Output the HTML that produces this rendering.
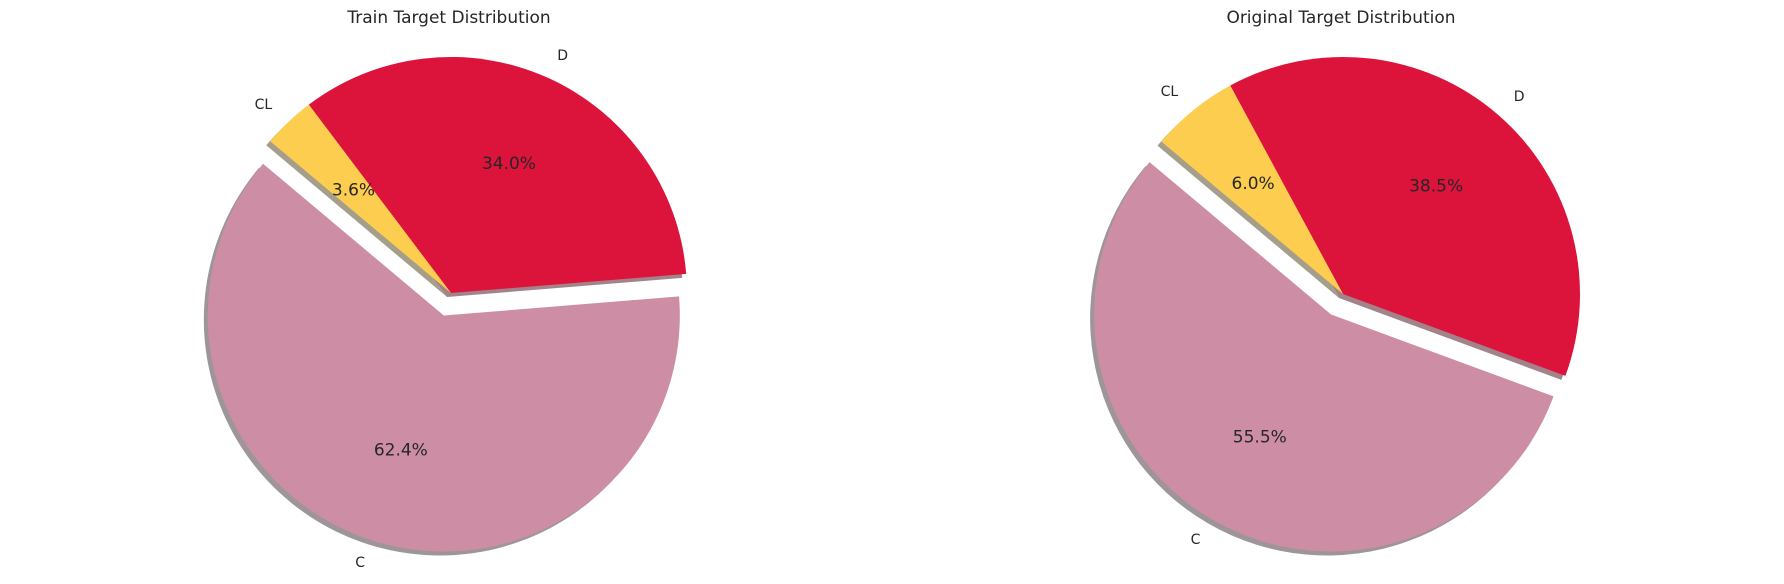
<!DOCTYPE html>
<html><head><meta charset="utf-8"><style>
html,body{margin:0;padding:0;background:#fff;}
svg{display:block;font-family:"DejaVu Sans","Liberation Sans",sans-serif;}
</style></head><body>
<svg id="chart" width="1784" height="584" viewBox="0 0 1784 584" xmlns="http://www.w3.org/2000/svg">
<text x="449" y="23" text-anchor="middle" font-size="17" fill="#262626">Train Target Distribution</text>
<text x="1341" y="23" text-anchor="middle" font-size="17" fill="#262626">Original Target Distribution</text>
</svg>
<script>
const categories = ["C", "D", "CL"];
const trainValues = [62.4, 34.0, 3.6];
const originalValues = [55.5, 38.5, 6.0];
const colors = ["#cd8ea5", "#dc143c", "#fccd4e"];
const explode = [0.1, 0, 0];
const startAngle = 140;

const svg = document.getElementById('chart');
const NS = 'http://www.w3.org/2000/svg';

function drawPie(values, cx, cy, R, prefix) {
  const total = values.reduce((a, b) => a + b, 0);
  const shadowG = document.createElementNS(NS, 'g');
  
  
  const wedgeG = document.createElementNS(NS, 'g');
  
  
  svg.appendChild(shadowG);
  svg.appendChild(wedgeG);
  let a = startAngle;
  values.forEach((v, i) => {
    const sweep = 360 * v / total;
    const a0 = a, a1 = a + sweep;
    a = a1;
    const mid = (a0 + a1) / 2 * Math.PI / 180;
    const ox = cx + explode[i] * R * Math.cos(mid);
    const oy = cy - explode[i] * R * Math.sin(mid);
    const r0 = a0 * Math.PI / 180, r1 = a1 * Math.PI / 180;
    const large = sweep > 180 ? 1 : 0;
    const path = (dx, dy) => {
      const x = ox + dx, y = oy + dy;
      return 'M' + x + ',' + y +
        ' L' + (x + R * Math.cos(r0)) + ',' + (y - R * Math.sin(r0)) +
        ' A' + R + ',' + R + ' 0 ' + large + ' 0 ' + (x + R * Math.cos(r1)) + ',' + (y - R * Math.sin(r1)) + ' Z';
    };
    const c = colors[i];
    const rgb = [1, 3, 5].map(k => parseInt(c.substr(k, 2), 16));
    const sh = rgb.map(q => Math.round(0.3 * q * 0.5 + 255 * 0.5));
    const s = document.createElementNS(NS, 'path');
    s.setAttribute('d', path(-4, 4));
    s.setAttribute('fill', 'rgb(' + sh.join(',') + ')');
    
    
    shadowG.appendChild(s);
    const w = document.createElementNS(NS, 'path');
    w.setAttribute('d', path(0, 0));
    w.setAttribute('fill', c);
    
    
    wedgeG.appendChild(w);
    const lx = ox + 1.1 * R * Math.cos(mid), ly = oy - 1.1 * R * Math.sin(mid);
    const t = document.createElementNS(NS, 'text');
    t.setAttribute('x', lx);
    t.setAttribute('y', ly + 4);
    t.setAttribute('font-size', '14');
    t.setAttribute('fill', '#262626');
    t.setAttribute('text-anchor', Math.cos(mid) > 0 ? 'start' : 'end');
    t.textContent = categories[i];
    
    
    svg.appendChild(t);
    const px = ox + 0.6 * R * Math.cos(mid), py = oy - 0.6 * R * Math.sin(mid);
    const p = document.createElementNS(NS, 'text');
    p.setAttribute('x', px);
    p.setAttribute('y', py + 5);
    p.setAttribute('font-size', '17');
    p.setAttribute('fill', '#262626');
    p.setAttribute('text-anchor', 'middle');
    p.textContent = (100 * v / total).toFixed(1) + '%';
    
    
    svg.appendChild(p);
  });
}
drawPie(trainValues, 451, 293, 236, 'train');
drawPie(originalValues, 1343, 294, 237, 'original');
</script>
</body></html>
